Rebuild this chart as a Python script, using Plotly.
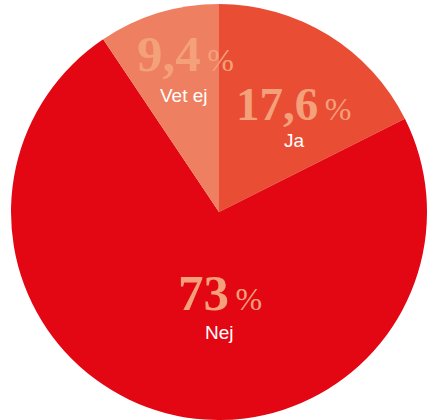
import plotly.graph_objects as go

categories = ["Ja", "Nej", "Vet ej"]
values = [17.6, 73, 9.4]
value_labels = ["17,6", "73", "9,4"]
colors = ["#E94E35", "#E30613", "#EE7F60"]

W, H = 428, 420

fig = go.Figure(go.Pie(
    labels=categories,
    values=values,
    sort=False,
    direction="clockwise",
    rotation=0,
    marker=dict(colors=colors, line=dict(width=0)),
    textinfo="none",
    hoverinfo="label+value",
    domain=dict(x=[11 / W, 427 / W], y=[0, 416 / H]),
    showlegend=False,
))

# label positions (pixel centers) and number font sizes
num_pos = {"Ja": (293, 104), "Nej": (220, 293), "Vet ej": (185, 54)}
num_size = {"Ja": 47, "Nej": 51, "Vet ej": 51}
lab_pos = {"Ja": (294, 141), "Nej": (219, 332), "Vet ej": (184, 96)}

num_color = "#F4A07A"
for cat, vl in zip(categories, value_labels):
    nx, ny = num_pos[cat]
    fig.add_annotation(
        x=nx / W, y=1 - ny / H, xref="paper", yref="paper",
        xanchor="center", yanchor="middle", showarrow=False,
        text=f"<b>{vl}</b><span style='font-size:32px;font-weight:normal'>\u2009%</span>",
        font=dict(family="Liberation Serif", size=num_size[cat], color=num_color),
    )
    lx, ly = lab_pos[cat]
    fig.add_annotation(
        x=lx / W, y=1 - ly / H, xref="paper", yref="paper",
        xanchor="center", yanchor="middle", showarrow=False,
        text=cat,
        font=dict(family="Liberation Sans", size=19, color="white"),
    )

fig.update_layout(
    width=W, height=H,
    margin=dict(l=0, r=0, t=0, b=0),
    paper_bgcolor="white",
    plot_bgcolor="white",
)

fig.write_html(
    "out.html",
    config={"displayModeBar": False},
    post_script="document.body.style.margin='0';document.body.style.overflow='hidden';",
)
